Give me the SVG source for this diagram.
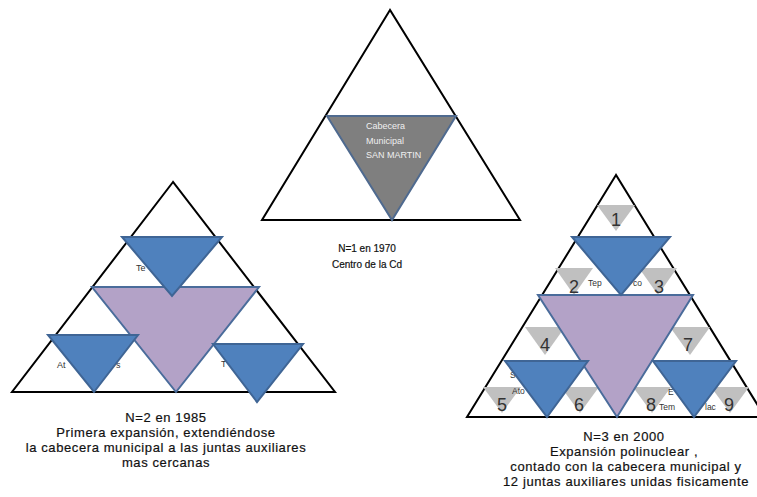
<svg xmlns="http://www.w3.org/2000/svg" width="757" height="497" viewBox="0 0 757 497">
<style>
.outer{fill:#fff;stroke:#000;stroke-width:2;stroke-linejoin:miter}
.blue{fill:#4F81BD;stroke:#3F6595;stroke-width:2}
.purple{fill:#B3A2C7;stroke:#4A6C9B;stroke-width:2}
.center{fill:#7F7F7F;stroke:#4F6A8F;stroke-width:2}
.gray{fill:#C0C0C0;stroke:none}
.num{font-family:"Liberation Sans",Arial,sans-serif;font-size:18px;fill:#333;text-anchor:middle}
.lbl{font-family:"Liberation Sans",Arial,sans-serif;font-size:8.5px;fill:#333}
.cap{font-family:"Liberation Sans",Arial,sans-serif;font-size:13px;letter-spacing:0.6px;fill:#111;stroke:#111;stroke-width:0.2;text-anchor:middle}
.capS{font-family:"Liberation Sans",Arial,sans-serif;font-size:10px;fill:#111;stroke:#111;stroke-width:0.2;text-anchor:middle}
.wt{font-family:"Liberation Sans",Arial,sans-serif;font-size:9px;fill:#f0f0f0}
</style>
<rect width="757" height="497" fill="#fff"/>

<g id="n1">
<polygon class="outer" points="390,10 262,220 520,220"/>
<polygon class="center" points="327,116 456,116 392,220"/>
<text class="wt" x="366" y="129">Cabecera</text>
<text class="wt" x="366" y="144">Municipal</text>
<text class="wt" x="366" y="158">SAN MARTIN</text>
<text class="capS" x="367" y="252">N=1 en 1970</text>
<text class="capS" x="367" y="268">Centro de la Cd</text>
</g>

<g id="n2">
<polygon class="outer" points="173,182 12,392 335,392"/>
<text class="lbl" x="136" y="271" style="font-size:9px">Te</text>
<text class="lbl" x="57" y="368" style="font-size:9px">At</text>
<text class="lbl" x="116" y="368" style="font-size:9px">s</text>
<text class="lbl" x="221" y="367" style="font-size:9px">T</text>
<polygon class="purple" points="92,287 259,287 176,392"/>
<polygon class="blue" points="122,237 222,237 172,296"/>
<polygon class="blue" points="48,335 138,335 94,392"/>
<polygon class="blue" points="213,344 303,344 257,402"/>
<text class="cap" x="166" y="422">N=2 en 1985</text>
<text class="cap" x="166" y="437">Primera expansión, extendiéndose</text>
<text class="cap" x="166" y="452">la cabecera municipal a las juntas auxiliares</text>
<text class="cap" x="166" y="467">mas cercanas</text>
</g>

<g id="n3">
<polygon class="outer" points="616,175 467,417 765,417"/>
<polygon class="gray" points="597,205 635,205 616,231"/>
<polygon class="gray" points="555,268 593,268 574,295"/>
<polygon class="gray" points="639,268 677,268 658,295"/>
<polygon class="gray" points="525,327 565,327 545,355"/>
<polygon class="gray" points="670,327 710,327 690,355"/>
<polygon class="gray" points="483,387 521,387 502,413"/>
<polygon class="gray" points="561,387 599,387 580,413"/>
<polygon class="gray" points="633,387 671,387 652,413"/>
<polygon class="gray" points="711,387 749,387 730,413"/>
<text class="num" x="616" y="226">1</text>
<text class="num" x="574" y="293">2</text>
<text class="num" x="659" y="293">3</text>
<text class="num" x="545" y="351">4</text>
<text class="num" x="688" y="351">7</text>
<text class="num" x="502" y="411">5</text>
<text class="num" x="579" y="411">6</text>
<text class="num" x="651" y="411">8</text>
<text class="num" x="729" y="411">9</text>
<text class="lbl" x="588" y="286">Tep</text>
<text class="lbl" x="633" y="286">co</text>
<text class="lbl" x="510" y="378">S</text>
<text class="lbl" x="512" y="394">Ato</text>
<text class="lbl" x="668" y="395">E</text>
<text class="lbl" x="659" y="410">Tem</text>
<text class="lbl" x="705" y="410">lac</text>
<polygon class="purple" points="538,295 693,295 617,417"/>
<polygon class="blue" points="572,237 670,237 621,295"/>
<polygon class="blue" points="505,361 588,361 547,417"/>
<polygon class="blue" points="653,361 736,361 694,417"/>
<text class="cap" x="624" y="441">N=3 en 2000</text>
<text class="cap" x="624" y="456">Expansión  polinuclear ,</text>
<text class="cap" x="626" y="471">contado con la cabecera municipal y</text>
<text class="cap" x="626" y="486">12 juntas auxiliares unidas fisicamente</text>
</g>
</svg>
